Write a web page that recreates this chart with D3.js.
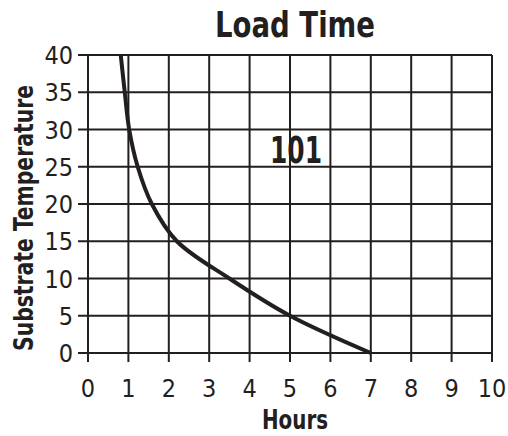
<!DOCTYPE html>
<html>
  <head>
    <meta charset="utf-8">
    <title>Load Time</title>
    <script src="https://d3js.org/d3.v7.min.js" charset="utf-8"></script>
    <style>
      html, body { margin: 0; padding: 0; background: #fff; }
      svg { display: block; }
      text { fill: #231f20; font-family: "Liberation Sans Narrow", "Arial Narrow", "DejaVu Sans Condensed", sans-serif; }
      .bold { font-weight: bold; }
    </style>
  </head>
  <body>
    <div id="chart"></div>
    <script>
      // data
      var hours = [0.81, 0.91, 1.02, 1.23, 1.58, 2.2, 3.5, 5.0, 7.0];
      var temps = [40, 35, 30, 25, 20, 15, 10, 5, 0];
      var xTicks = [0, 1, 2, 3, 4, 5, 6, 7, 8, 9, 10];
      var yTicks = [0, 5, 10, 15, 20, 25, 30, 35, 40];
      var curveLabel = "101";

      var width = 508, height = 436;
      var plotLeft = 88, plotRight = 492, plotTop = 55, plotBottom = 353;
      var ink = "#231f20";

      var svg = d3.select("#chart").append("svg")
        .attr("width", width)
        .attr("height", height);

      var x = d3.scaleLinear().domain([0, 10]).range([plotLeft, plotRight]);
      var y = d3.scaleLinear().domain([0, 40]).range([plotBottom, plotTop]);

      // grid
      svg.append("g").selectAll("line").data(xTicks).enter().append("line")
        .attr("x1", d => x(d)).attr("x2", d => x(d))
        .attr("y1", plotTop).attr("y2", plotBottom + 9)
        .attr("stroke", ink).attr("stroke-width", 2);
      svg.append("g").selectAll("line").data(yTicks).enter().append("line")
        .attr("x1", plotLeft - 10).attr("x2", plotRight)
        .attr("y1", d => y(d)).attr("y2", d => y(d))
        .attr("stroke", ink).attr("stroke-width", 2);

      // tick labels
      svg.append("g").selectAll("text").data(yTicks).enter().append("text")
        .attr("x", plotLeft - 15).attr("y", d => y(d))
        .attr("dy", "0.36em")
        .attr("text-anchor", "end")
        .attr("font-size", 25)
        .text(d => d);
      svg.append("g").selectAll("text").data(xTicks).enter().append("text")
        .attr("x", d => x(d)).attr("y", plotBottom + 44)
        .attr("text-anchor", "middle")
        .attr("font-size", 25)
        .text(d => d);

      // curve
      var line = d3.line()
        .x((d, i) => x(hours[i]))
        .y(d => y(d))
        .curve(d3.curveCatmullRom.alpha(0.5));
      svg.append("path")
        .attr("d", line(temps))
        .attr("fill", "none")
        .attr("stroke", ink)
        .attr("stroke-width", 4);

      svg.append("text").attr("class", "bold")
        .attr("x", 296).attr("y", 163)
        .attr("text-anchor", "middle")
        .attr("font-size", 37)
        .attr("textLength", 52).attr("lengthAdjust", "spacingAndGlyphs")
        .text(curveLabel);

      // titles
      svg.append("text").attr("class", "bold")
        .attr("x", 295).attr("y", 37)
        .attr("text-anchor", "middle")
        .attr("font-size", 36)
        .attr("textLength", 160).attr("lengthAdjust", "spacingAndGlyphs")
        .text("Load Time");
      svg.append("text").attr("class", "bold")
        .attr("x", 295).attr("y", 429)
        .attr("text-anchor", "middle")
        .attr("font-size", 27)
        .attr("textLength", 66).attr("lengthAdjust", "spacingAndGlyphs")
        .text("Hours");
      svg.append("text").attr("class", "bold")
        .attr("transform", "translate(33,218) rotate(-90)")
        .attr("text-anchor", "middle")
        .attr("font-size", 26)
        .attr("textLength", 266).attr("lengthAdjust", "spacingAndGlyphs")
        .text("Substrate Temperature");
    </script>
  </body>
</html>
